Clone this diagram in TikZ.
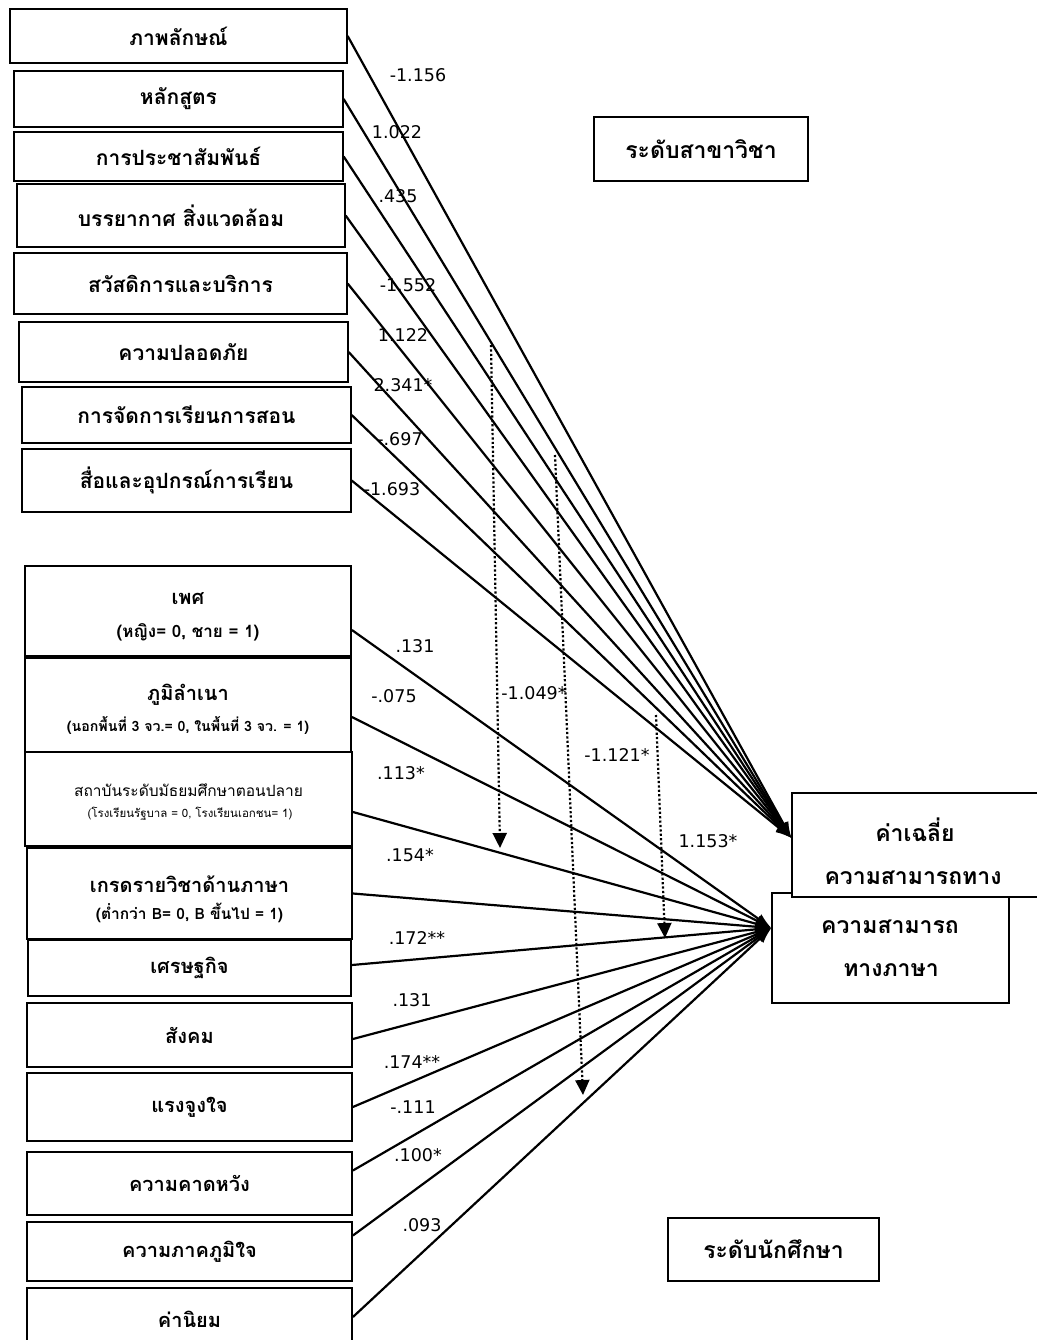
\documentclass[tikz,border=0pt]{standalone}
\usepackage{fontspec}
\setmainfont{DejaVu Sans}
\newfontfamily\thai[Script=Thai]{Loma}
\usetikzlibrary{arrows.meta}
\tikzset{
  ubox/.style={draw, line width=1.3pt, fill=white, inner sep=0pt, font=\thai\bfseries\fontsize{21}{24}\selectfont, align=center},
  lbox/.style={draw, line width=1.8pt, fill=white, inner sep=0pt, font=\thai\bfseries\fontsize{20}{24}\selectfont, align=center},
  rbox/.style={draw, line width=1.3pt, fill=white, inner sep=0pt, font=\thai\bfseries\fontsize{23}{26}\selectfont, align=center},
  rtext/.style={inner sep=0pt, font=\thai\bfseries\fontsize{23}{26}\selectfont},
  btext/.style={inner sep=0pt, font=\thai\bfseries\fontsize{#1}{#1}\selectfont},
  rgtext/.style={inner sep=0pt, font=\thai\fontsize{#1}{#1}\selectfont},
  num/.style={font=\fontsize{17.5}{20}\selectfont, inner sep=0pt},
  path/.style={line width=2.2pt, -{Latex[length=16pt,width=11pt]}},
  modarrow/.style={line width=2.2pt, dash pattern=on 2.2pt off 2.2pt, -{Triangle[length=15pt,width=14pt]}}
}
\begin{document}
\begin{tikzpicture}[x=1pt,y=-1pt]
\useasboundingbox (0,0) rectangle (1036,1340);
% upper (program level) boxes
\node[ubox, minimum width=337pt, minimum height=54pt] (u1) at (178.5,36) {ภาพลักษณ์};
\node[ubox, minimum width=329pt, minimum height=56pt] (u2) at (178.5,99) {หลักสูตร};
\node[ubox, minimum width=329pt, minimum height=49pt] (u3) at (178.5,156.5) {การประชาสัมพันธ์};
\node[ubox, minimum width=328pt, minimum height=63pt] (u4) at (181,215.5) {บรรยากาศ สิ่งแวดล้อม};
\node[ubox, minimum width=333pt, minimum height=61pt] (u5) at (180.5,283.5) {สวัสดิการและบริการ};
\node[ubox, minimum width=329pt, minimum height=60pt] (u6) at (183.5,352) {ความปลอดภัย};
\node[ubox, minimum width=329pt, minimum height=56pt] (u7) at (186.5,415) {การจัดการเรียนการสอน};
\node[ubox, minimum width=329pt, minimum height=63pt] (u8) at (186.5,480.5) {สื่อและอุปกรณ์การเรียน};
% lower (student level) boxes
\node[lbox, minimum width=326pt, minimum height=90pt] (l1) at (188,611) {};
\node[btext=20] (l1a) at (188,599) {เพศ};
\node[btext=17] (l1b) at (188,632) {(หญิง= 0, ชาย = 1)};
\node[lbox, minimum width=326pt, minimum height=94pt] (l2) at (188,705) {};
\node[btext=20] (l2a) at (188,695) {ภูมิลำเนา};
\node[btext=14.2] (l2b) at (188,725) {(นอกพื้นที่ 3 จว.= 0, ในพื้นที่ 3 จว. = 1)};
\node[lbox, minimum width=327pt, minimum height=94pt] (l3) at (188.5,799) {};
\node[rgtext=15.5] (l3a) at (188.5,790) {สถาบันระดับมัธยมศึกษาตอนปลาย};
\node[rgtext=11.5] (l3b) at (190,814) {(โรงเรียนรัฐบาล = 0,  โรงเรียนเอกชน= 1)};
\node[lbox, minimum width=325pt, minimum height=91pt] (l4) at (189.5,893.5) {};
\node[btext=20] (l4a) at (189.5,884) {เกรดรายวิชาด้านภาษา};
\node[btext=15.5] (l4b) at (189.5,913) {(ต่ำกว่า B= 0, B ขึ้นไป = 1)};
\node[lbox, minimum width=323pt, minimum height=56pt] (l5) at (189.5,968) {เศรษฐกิจ};
\node[lbox, minimum width=325pt, minimum height=64pt] (l6) at (189.5,1035) {สังคม};
\node[lbox, minimum width=325pt, minimum height=68pt] (l7) at (189.5,1107) {แรงจูงใจ};
\node[lbox, minimum width=325pt, minimum height=63pt] (l8) at (189.5,1183.5) {ความคาดหวัง};
\node[lbox, minimum width=325pt, minimum height=59pt] (l9) at (189.5,1251.5) {ความภาคภูมิใจ};
\node[lbox, minimum width=325pt, minimum height=62pt] (l10) at (189.5,1319) {ค่านิยม};
% right side boxes
\node[rbox, minimum width=214pt, minimum height=64pt] (lvp) at (701,149) {ระดับสาขาวิชา};
\node[rbox, minimum width=211pt, minimum height=63pt] (lvs) at (773.5,1249.5) {ระดับนักศึกษา};
\node[rbox, minimum width=237pt, minimum height=110pt] (lang) at (890.5,948) {};
\node[rtext] (langt1) at (890,927) {ความสามารถ};
\node[rtext] (langt2) at (891,970) {ทางภาษา};
\node[rbox, minimum width=250pt, minimum height=104pt] (avg) at (917,845) {};
\node[rtext] (avgt1) at (915,830) {ค่าเฉลี่ย};
\node[rtext] (avgt2) at (913,878) {ความสามารถทาง};
% upper paths
\coordinate (ta) at ([yshift=7pt]avg.west);
\foreach \n in {u1,u2,u3,u4,u5,u6,u7,u8} \draw[path] (\n.east) -- (ta);
% lower paths
\coordinate (tb) at ([yshift=20pt]lang.west);
\draw[path] ([yshift=-19pt]l1.east) -- (tb);
\draw[path] ([yshift=-12pt]l2.east) -- (tb);
\draw[path] ([yshift=-13pt]l3.east) -- (tb);
\draw[path] (l4.east) -- (tb);
\draw[path] ([yshift=3pt]l5.east) -- (tb);
\draw[path] ([yshift=-4pt]l6.east) -- (tb);
\draw[path] (l7.east) -- (tb);
\draw[path] ([yshift=13pt]l8.east) -- (tb);
\draw[path] ([yshift=16pt]l9.east) -- (tb);
\draw[path] ([yshift=2pt]l10.east) -- (tb);
% cross-level moderation arrows
\coordinate (m1s) at (491,345); \coordinate (m1e) at (500,848);
\coordinate (m2s) at (555,455); \coordinate (m2e) at (583,1095);
\coordinate (m3s) at (656,715); \coordinate (m3e) at (665,938);
\draw[modarrow] (m1s) -- (m1e);
\draw[modarrow] (m2s) -- (m2e);
\draw[modarrow] (m3s) -- (m3e);
% coefficient labels (upper)
\node[num] (c1) at (418,75) {-1.156};
\node[num] (c2) at (397,132) {1.022};
\node[num] (c3) at (398,196) {.435};
\node[num] (c4) at (408,285) {-1.552};
\node[num] (c5) at (403,335) {1.122};
\node[num] (c6) at (403,385) {2.341*};
\node[num] (c7) at (400,439) {-.697};
\node[num] (c8) at (392,489) {-1.693};
% coefficient labels (lower)
\node[num] (d1) at (415,646) {.131};
\node[num] (d2) at (394,696) {-.075};
\node[num] (d3) at (401,773) {.113*};
\node[num] (d4) at (410,855) {.154*};
\node[num] (d5) at (417,938) {.172**};
\node[num] (d6) at (412,1000) {.131};
\node[num] (d7) at (412,1062) {.174**};
\node[num] (d8) at (413,1107) {-.111};
\node[num] (d9) at (418,1155) {.100*};
\node[num] (d10) at (422,1225) {.093};
% moderation labels
\node[num] (e1) at (534,693) {-1.049*};
\node[num] (e2) at (617,755) {-1.121*};
\node[num] (e3) at (708,841) {1.153*};
\end{tikzpicture}
\end{document}
